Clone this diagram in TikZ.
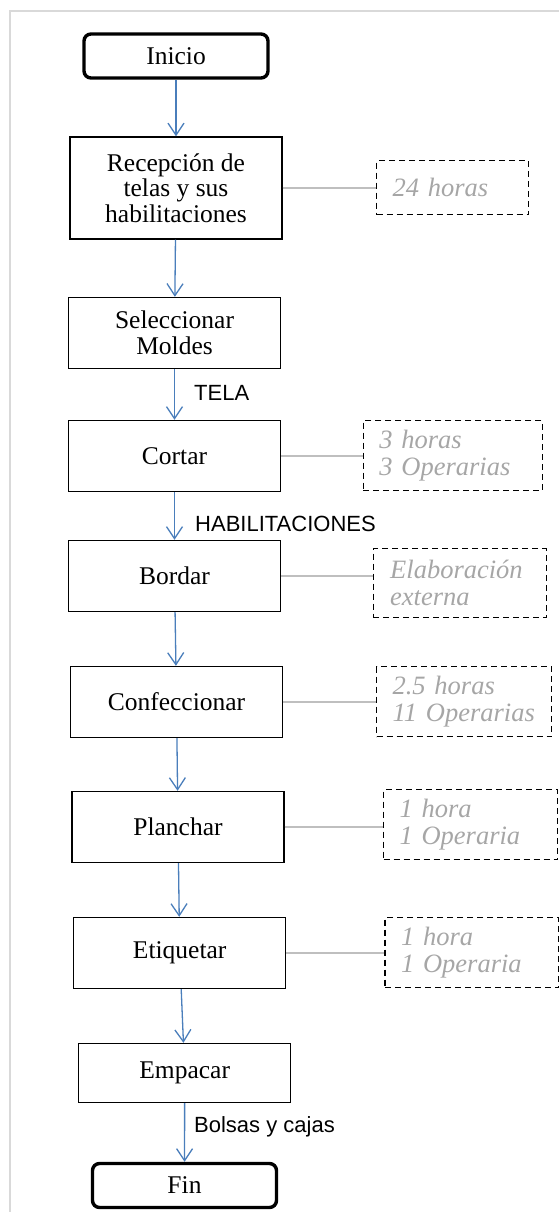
\documentclass[tikz,border=0pt]{standalone}
\usepackage{fontspec}
\setmainfont{Liberation Serif}
\setsansfont{Liberation Sans}
\usepackage{tikz}
\usetikzlibrary{arrows.meta,positioning}
\definecolor{flowblue}{HTML}{4A7EBB}
\definecolor{notegray}{HTML}{A6A6A6}
\definecolor{linkgray}{HTML}{BFBFBF}
\definecolor{framegray}{HTML}{D9D9D9}
\tikzset{
  terminal/.style = {draw, rounded corners=7pt, line width=3.4pt, minimum width=184pt, minimum height=44pt, font=\fontsize{25.5}{26}\selectfont},
  proc/.style     = {draw, line width=1.4pt, minimum width=212pt, minimum height=71pt, align=center, font=\fontsize{25.5}{25.5}\selectfont},
  note/.style     = {draw, dashed, dash pattern=on 6pt off 4pt, line width=1.3pt, inner xsep=16pt, align=left, text=notegray, font=\fontsize{26.5}{27}\selectfont\itshape},
  flow/.style     = {flowblue, line width=1.3pt, -{Straight Barb[length=12pt,width=16pt]}},
  link/.style     = {linkgray, line width=1.3pt},
  tag/.style      = {anchor=west, inner sep=0pt, font=\sffamily\fontsize{22}{24}\selectfont}
}

\begin{document}
\begin{tikzpicture}[x=1pt, y=-1pt]
    \useasboundingbox (0,0) rectangle (559,1212);
    % Frame
    \draw[framegray, line width=2pt] (10,1212) -- (10,11) -- (559,11);
    % Steps
    \node[terminal] (ini) at (176,56) {Inicio};
    \node[proc, minimum height=102pt] (rec) at (176,188) {Recepción de\\telas y sus\\habilitaciones};
    \node[proc] (sel) at (174.5,333) {Seleccionar\\Moldes};
    \node[proc] (cor) at (174.5,456) {Cortar};
    \node[proc] (bor) at (174.5,576) {Bordar};
    \node[proc] (con) at (176.5,702) {Confeccionar};
    \node[proc] (pla) at (178,827) {Planchar};
    \node[proc] (eti) at (179.7,953) {Etiquetar};
    \node[proc, minimum height=59pt] (emp) at (184.7,1073) {Empacar};
    \node[terminal] (fin) at (184.5,1185.5) {Fin};
    % Notes
    \node[note, minimum width=152pt, minimum height=54pt, text width=120pt] (n1) at (452.5,187.5) {24 horas};
    \node[note, minimum width=179pt, minimum height=70pt, text width=147pt] (n2) at (452.8,455.5) {3 horas\\3 Operarias};
    \node[note, minimum width=173pt, minimum height=69pt, text width=139pt, inner xsep=17pt] (n3) at (459.7,583) {Elaboración\\externa};
    \node[note, minimum width=175pt, minimum height=70pt, text width=143pt] (n4) at (464,701.5) {2.5 horas\\11 Operarias};
    \node[note, minimum width=174pt, minimum height=70pt, text width=142pt] (n5) at (470.5,824.5) {1 hora\\1 Operaria};
    \node[note, minimum width=174pt, minimum height=70pt, text width=142pt] (n6) at (472,952.5) {1 hora\\1 Operaria};
    % Flow
    \draw[flow] (ini) -- (rec);
    \draw[flow] (rec) -- (sel);
    \draw[flow] (sel) -- (cor);
    \draw[flow] (cor) -- (bor);
    \draw[flow] (bor) -- (con);
    \draw[flow] (con) -- (pla);
    \draw[flow] (pla) -- (eti);
    \draw[flow] (eti) -- (emp);
    \draw[flow] (emp) -- (fin);
    % Inputs on the arrows
    \node[tag] (tela) at (194,393) {TELA};
    \node[tag] (habi) at (195,524) {HABILITACIONES};
    \node[tag] (bols) at (194,1127) {Bolsas y cajas};
    % Links to notes
    \draw[link] (rec.east) -- (rec.east -| n1.west);
    \draw[link] (cor.east) -- (cor.east -| n2.west);
    \draw[link] (bor.east) -- (bor.east -| n3.west);
    \draw[link] (con.east) -- (con.east -| n4.west);
    \draw[link] (pla.east) -- (pla.east -| n5.west);
    \draw[link] (eti.east) -- (eti.east -| n6.west);
\end{tikzpicture}
\end{document}
